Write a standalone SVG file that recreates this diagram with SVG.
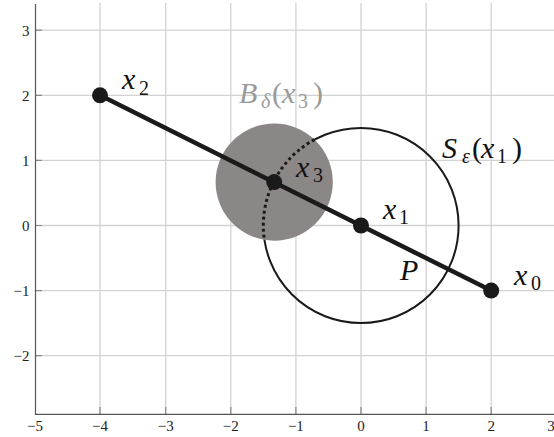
<svg xmlns="http://www.w3.org/2000/svg" width="554" height="437" viewBox="0 0 554 437">
<style>
.grid{stroke:#d2d2d2;stroke-width:1.3;fill:none}
.axis{stroke:#555;stroke-width:1.2;fill:none}
.tick{stroke:#888;stroke-width:1.2}
.tl{font-size:15px;fill:#222}
.m{font-size:30px;fill:#111}
.i{font-style:italic}
.s{font-size:20px}
.g{fill:#9a9a9a}
.dot{fill:#1a1a1a}
</style>
<rect width="554" height="437" fill="#fff"/>
<g id="grid">
<path class="grid" d="M100 3V414M165.7 3V414M230.8 3V414M295.9 3V414M361 3V414M426.1 3V414M491.2 3V414"/>
<path class="grid" d="M35.5 30.2H554M35.5 95.3H554M35.5 160.4H554M35.5 225.5H554M35.5 290.6H554M35.5 355.7H554"/>
</g>
<g id="axes" font-family="'Liberation Serif', 'DejaVu Serif', serif">
<path class="tick" d="M100 414V407M165.7 414V407M230.8 414V407M295.9 414V407M361 414V407M426.1 414V407M491.2 414V407M35.5 30.2H42M35.5 95.3H42M35.5 160.4H42M35.5 225.5H42M35.5 290.6H42M35.5 355.7H42"/>
<path class="axis" d="M35.5 4V414.3H554"/>
<g class="tl" text-anchor="middle">
<text x="35" y="431">−5</text>
<text x="100" y="431">−4</text>
<text x="165.7" y="431">−3</text>
<text x="230.8" y="431">−2</text>
<text x="295.9" y="431">−1</text>
<text x="361" y="431">0</text>
<text x="426.1" y="431">1</text>
<text x="491.2" y="431">2</text>
<text x="551" y="431">3</text>
</g>
<g class="tl" text-anchor="end">
<text x="29.5" y="35.5">3</text>
<text x="29.5" y="100.8">2</text>
<text x="29.5" y="165.9">1</text>
<text x="29.5" y="231">0</text>
<text x="29.5" y="296.1">−1</text>
<text x="29.5" y="361">−2</text>
</g>
</g>
<g id="sphere">
<circle cx="361" cy="225.5" r="97.6" fill="none" stroke="#1a1a1a" stroke-width="2"/>
</g>
<g id="ball">
<circle cx="274.2" cy="182.1" r="58.6" fill="#8c8787"/>
</g>
<g id="connectors">
<path d="M314.5 139.6A97.6 97.6 0 0 0 264.4 239.9" fill="none" stroke="#1a1a1a" stroke-width="3" stroke-dasharray="3 3"/>
<line x1="100" y1="95.3" x2="491.2" y2="290.6" stroke="#1a1a1a" stroke-width="4.5"/>
</g>
<g id="x2"><circle class="dot" cx="100" cy="95.3" r="8"/></g>
<g id="x3"><circle class="dot" cx="274.2" cy="182.1" r="8"/></g>
<g id="x1"><circle class="dot" cx="361" cy="225.5" r="8"/></g>
<g id="x0"><circle class="dot" cx="491.2" cy="290.6" r="8"/></g>
<g id="labels" font-family="'Liberation Serif', 'DejaVu Serif', serif">
<text class="m i" x="122" y="89">x</text><text class="m s" x="139" y="95">2</text>
<text class="m i" x="296" y="176.5">x</text><text class="m s" x="313" y="181.5">3</text>
<text class="m i" x="383" y="219">x</text><text class="m s" x="399" y="224">1</text>
<text class="m i" x="514" y="285">x</text><text class="m s" x="531" y="290">0</text>
<text class="m i" x="400" y="280">P</text>
<text class="m i" x="442" y="158">S</text><text class="m i s" x="462" y="163">ε</text><text class="m" x="472" y="158">(</text><text class="m i" x="481" y="158">x</text><text class="m s" x="497" y="163">1</text><text class="m" x="512" y="158">)</text>
<text class="m i g" x="239" y="103">B</text><text class="m i s g" x="261" y="108">δ</text><text class="m g" x="272" y="103">(</text><text class="m i g" x="282" y="103">x</text><text class="m s g" x="298" y="108">3</text><text class="m g" x="313" y="103">)</text>
</g>
</svg>
